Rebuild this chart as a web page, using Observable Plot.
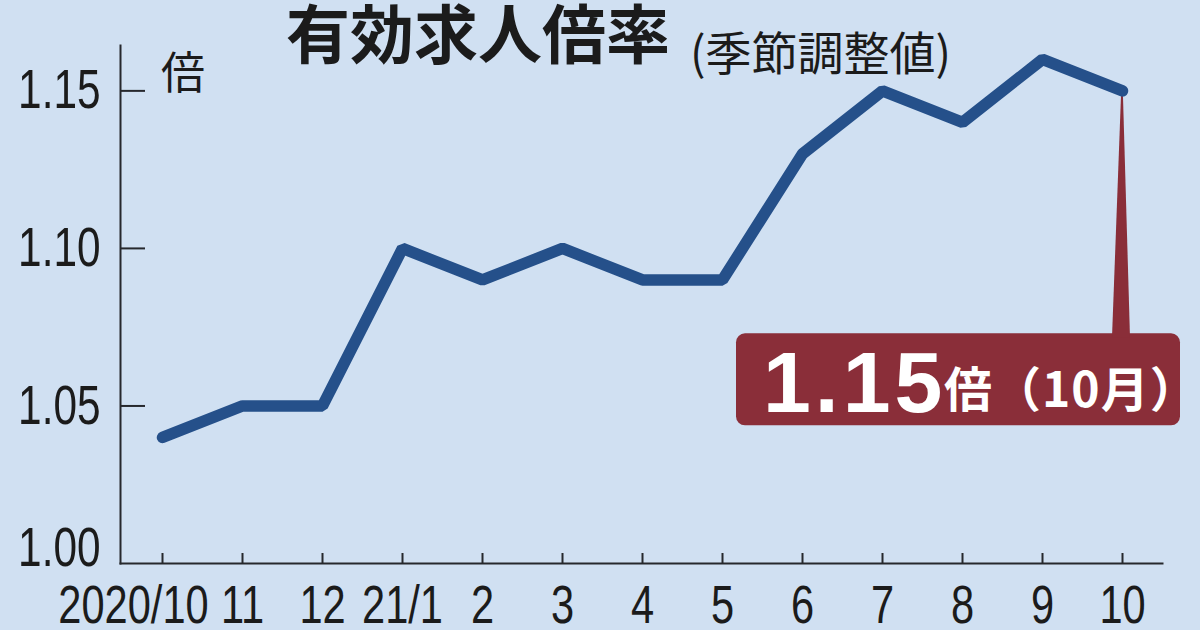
<!DOCTYPE html>
<html><head><meta charset="utf-8">
<script src="https://cdn.jsdelivr.net/npm/d3@7"></script>
<script src="https://cdn.jsdelivr.net/npm/@observablehq/plot@0.6"></script>
<style>
html,body{margin:0;padding:0;background:#d0e0f2;}
#chart{width:1200px;height:630px;overflow:hidden;}
</style></head><body><div id="chart"></div>
<script>
const months = ["2020/10","11","12","21/1","2","3","4","5","6","7","8","9","10"];
const ratios = [1.04,1.05,1.05,1.10,1.09,1.10,1.09,1.09,1.13,1.15,1.14,1.16,1.15];
const yTicks = [1.00,1.05,1.10,1.15];
const title = "有効求人倍率";
const subtitle = "(季節調整値)";
const unit = "倍";
const calloutMonth = "10月";

const data = months.map((m,i)=>({m, v: ratios[i]}));
const numFont = '"Liberation Sans",Arial,sans-serif';
const cjkFont = '"Noto Sans CJK JP","Noto Sans CJK SC",sans-serif';
const axisColor = "#26282d";
const textColor = "#1b1b1b";
const blank = () => "";

const plot = Plot.plot({
  width:1200, height:630, marginLeft:120, marginRight:38, marginTop:45, marginBottom:67,
  style:{background:"#d0e0f2", fontFamily:numFont, color:textColor},
  x:{type:"point", domain:months, padding:0.47, align:0.517, label:null},
  y:{domain:[1.0,1.1644], label:null},
  marks:[
    Plot.frame({anchor:"left", stroke:axisColor, strokeWidth:2}),
    Plot.frame({anchor:"bottom", stroke:axisColor, strokeWidth:2}),
    Plot.axisY(yTicks.slice(1), {tickSize:25, dx:25, stroke:axisColor, strokeWidth:2, tickFormat:blank, label:null}),
    Plot.axisY(yTicks.slice(1), {tickSize:0, tickPadding:20, tickFormat:d=>d.toFixed(2), fontSize:55, fill:textColor, label:null}),
    Plot.axisY(yTicks.slice(0,1), {tickSize:0, tickPadding:20, dy:-15, tickFormat:d=>d.toFixed(2), fontSize:55, fill:textColor, label:null}),
    Plot.axisX(months, {tickSize:10, dy:-10, stroke:axisColor, strokeWidth:2, tickFormat:blank, label:null}),
    Plot.axisX(months.slice(1), {tickSize:0, tickPadding:21, fontSize:54, fill:textColor, label:null}),
    Plot.axisX(months.slice(0,1), {tickSize:0, tickPadding:21, dx:-29, fontSize:54, fill:textColor, label:null}),
    Plot.line(data, {x:"m", y:"v", stroke:"#25508a", strokeWidth:11.5, strokeLinecap:"round", strokeLinejoin:"miter"})
  ]
});
document.getElementById("chart").appendChild(plot);

const svg = d3.select(plot);
// condense tick-label digits horizontally (narrow newspaper numerals)
svg.selectAll('g[aria-label$="tick label"] text').each(function() {
  const t = this.getAttribute("transform");
  if (t) this.setAttribute("transform", t + " scale(0.77,1)");
  else {
    const x = +this.getAttribute("x") || 0, y = +this.getAttribute("y") || 0;
    this.setAttribute("transform", `translate(${x},${y}) scale(0.77,1) translate(${-x},${-y})`);
  }
});

const xs = plot.scale("x"), ys = plot.scale("y");
const last = data[data.length-1];
const px = xs.apply(last.m), py = ys.apply(last.v);
const boxL = px - 386, boxR = px + 58, boxT = py + 243, boxB = py + 335;
const calloutColor = "#8a2e39";
const lineG = svg.select('g[aria-label="line"]').node();
const callG = svg.insert("g", () => lineG);
callG.append("rect").attr("x", boxL).attr("y", boxT).attr("width", boxR-boxL).attr("height", boxB-boxT)
  .attr("rx", 9).attr("fill", calloutColor);
callG.append("polygon").attr("fill", calloutColor)
  .attr("points", [[px-0.8,py],[px+0.8,py],[px+8,boxT+4],[px-10,boxT+4]].map(p=>p.join(",")).join(" "));

const labelG = svg.append("g").attr("text-anchor", "start");
labelG.append("text").attr("x", boxL+27).attr("y", boxT+79)
  .attr("font-family", numFont).attr("font-weight", "bold")
  .attr("font-size", 86).attr("letter-spacing", 4).attr("fill", "#fff")
  .text(d3.format(".2f")(last.v));
labelG.append("text").attr("x", boxL+208).attr("y", boxT+74)
  .attr("font-family", cjkFont).attr("font-weight", "bold")
  .attr("font-size", 48).attr("letter-spacing", 1).attr("fill", "#fff")
  .text(unit + "（" + calloutMonth + "）");

const titleG = svg.append("g").attr("text-anchor", "start").attr("fill", textColor);
titleG.append("text").attr("x", 286).attr("y", 58)
  .attr("font-family", cjkFont).attr("font-weight", "bold").attr("font-size", 64)
  .text(title);
titleG.append("text").attr("x", 690).attr("y", 70)
  .attr("font-family", cjkFont).attr("font-weight", "normal").attr("font-size", 46)
  .text(subtitle);
titleG.append("text").attr("x", 161).attr("y", 89)
  .attr("font-family", cjkFont).attr("font-size", 44)
  .text(unit);
</script></body></html>
